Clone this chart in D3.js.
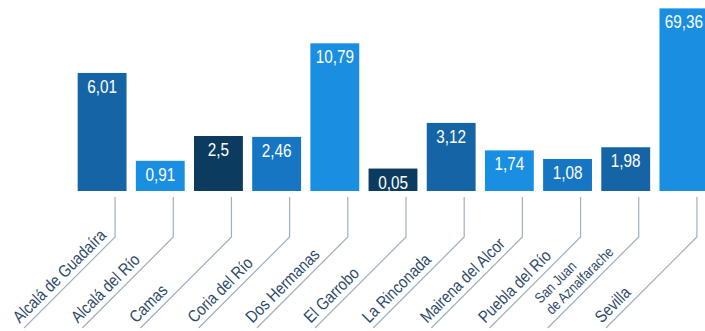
<!DOCTYPE html>
<html>
<head>
<meta charset="utf-8">
<script src="https://cdn.jsdelivr.net/npm/d3@7"></script>
<style>
  body { margin: 0; background: #fff; }
  svg { display: block; }
  .value { font-family: 'Liberation Sans', Arial, sans-serif; font-size: 18px; fill: #fff; }
  .cat { font-family: 'Liberation Sans', Arial, sans-serif; font-size: 17px; fill: #2e4a6a; }
  .cat.small { font-size: 14.5px; }
</style>
</head>
<body>
<div class="bar-chart"></div>
<script>
const municipios = [
  ['Alcalá de Guadaíra'],
  ['Alcalá del Río'],
  ['Camas'],
  ['Coria del Río'],
  ['Dos Hermanas'],
  ['El Garrobo'],
  ['La Rinconada'],
  ['Mairena del Alcor'],
  ['Puebla del Río'],
  ['San Juan', 'de Aznalfarache'],
  ['Sevilla'],
];
const porcentajes = [6.01, 0.91, 2.5, 2.46, 10.79, 0.05, 3.12, 1.74, 1.08, 1.98, 69.36];

// the picture squeezes the tall bars, so the value axis is broken at these points
const axisBreaks = [0, 1, 2, 3, 6, 11, 70];

const tones = {
  dark: '#0b3c60',
  medium: '#1565a6',
  mid: '#1776c4',
  light: '#1a8fe2',
};
const barTone = ['medium', 'light', 'dark', 'mid', 'light', 'dark', 'medium', 'light', 'mid', 'medium', 'light'];

const width = 705;
const height = 331;
const baseline = 191;
const narrow = 0.85; // the original type is condensed

const svg = d3
  .select('.bar-chart')
  .append('svg')
  .attr('width', width)
  .attr('height', height);

const xScale = d3
  .scaleBand()
  .domain(d3.range(porcentajes.length))
  .range([73, 713])
  .paddingInner(0.16)
  .paddingOuter(0.08);

const yScale = d3
  .scaleLinear()
  .domain(axisBreaks)
  .range([22, 31, 44, 66, 118, 149, 183].map((h) => baseline - h));

const fmt = (v) => String(v).replace('.', ',');

svg
  .selectAll('rect')
  .data(porcentajes)
  .enter()
  .append('rect')
  .attr('x', (d, i) => xScale(i))
  .attr('y', (d) => yScale(d))
  .attr('width', xScale.bandwidth())
  .attr('height', (d) => baseline - yScale(d))
  .attr('fill', (d, i) => tones[barTone[i]]);

svg
  .selectAll('text.value')
  .data(porcentajes)
  .enter()
  .append('text')
  .attr('class', 'value')
  .attr('text-anchor', 'middle')
  .attr(
    'transform',
    (d, i) => `translate(${xScale(i) + xScale.bandwidth() / 2},${yScale(d) + 20}) scale(${narrow},1)`
  )
  .text(fmt);

// leader lines: short drop, then a 45 degree run down to the left
const tickX = (i) => xScale(i) + xScale.bandwidth() / 2 + 13;
const dropTop = 197;
const dropEnd = 237;
const run = 91;

svg
  .selectAll('path.leader')
  .data(municipios)
  .enter()
  .append('path')
  .attr('class', 'leader')
  .attr('fill', 'none')
  .attr('stroke', '#9fb0c0')
  .attr('stroke-width', 1.2)
  .attr('d', (d, i) => {
    const x = tickX(i);
    return `M${x},${dropTop}L${x},${dropEnd}L${x - run},${dropEnd + run}`;
  });

const labels = svg
  .selectAll('g.cat')
  .data(municipios)
  .enter()
  .append('g')
  .attr(
    'transform',
    (d, i) => `translate(${tickX(i) - run},${dropEnd + run}) rotate(-45) scale(${narrow},1)`
  );

labels
  .append('text')
  .attr('class', (d) => (d.length > 1 ? 'cat small' : 'cat'))
  .attr('x', (d) => (d.length > 1 ? 14 : 0))
  .attr('y', -6)
  .selectAll('tspan')
  .data((d) => d)
  .enter()
  .append('tspan')
  .attr('x', function () {
    return d3.select(this.parentNode).attr('x');
  })
  .attr('dy', (d, i, nodes) => (i === 0 ? -(nodes.length - 1) * 16 : 16))
  .text((d) => d);
</script>
</body>
</html>
